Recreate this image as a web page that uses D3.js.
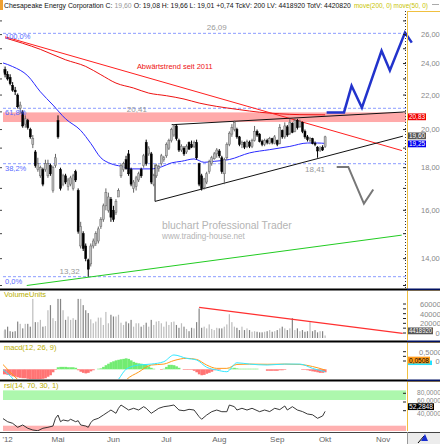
<!DOCTYPE html>
<html>
<head>
<meta charset="utf-8">
<title>Chesapeake Energy Corporation</title>
<script src="https://cdn.jsdelivr.net/npm/d3@7"></script>
<style>
  body { margin: 0; background: #fff; }
  svg { display: block; }
  text { font-family: "Liberation Sans", Arial, sans-serif; }
</style>
</head>
<body>
<svg id="chart" width="440" height="444"></svg>
<script>
// trading-day index, 0 = first day of April 2012
var firstIndex = -2;

var open = [23.4,23.6,23.3,23.1,22.6,22.3,22.0,21.2,21.0,20.3,
  20.5,20.0,19.2,18.8,17.9,17.6,17.9,17.9,17.6,18.1,
  16.9,18.1,20.5,17.9,17.2,17.6,17.1,17.2,17.0,17.8,
  16.9,14.5,15.0,14.5,13.95,13.8,14.5,14.6,14.7,15.3,
  15.6,16.2,16.0,16.5,16.0,15.9,16.6,17.6,17.9,18.4,
  18.7,17.9,17.0,17.1,17.4,17.9,18.1,19.3,18.7,18.7,
  17.2,17.6,17.95,18.2,18.4,18.6,19.0,19.4,19.7,20.2,
  19.4,18.9,19.0,18.8,19.3,19.2,19.1,19.3,18.2,17.6,
  17.05,17.3,17.8,18.2,18.45,18.7,18.85,18.5,17.7,18.5,
  19.2,19.75,20.0,20.0,19.6,19.2,19.3,19.1,19.3,19.1,
  19.4,19.9,19.75,19.35,19.2,19.4,19.25,19.5,19.25,19.4,
  19.25,19.95,19.6,20.15,19.8,20.35,19.9,20.5,20.15,20.4,
  19.9,19.6,19.4,19.5,19.25,19.05,18.9,19.05,19.08];
var high = [23.9,23.8,23.5,23.3,22.8,22.5,22.1,21.6,21.1,20.8,
  20.6,20.1,19.7,18.9,18.5,18.1,18.0,18.4,18.4,18.2,
  18.1,18.7,20.8,18.0,17.7,17.7,17.5,17.6,17.7,17.9,
  17.0,15.5,15.1,14.6,14.0,14.6,14.8,15.1,15.3,15.7,
  16.3,17.0,16.8,16.6,16.2,16.5,17.0,18.2,18.3,18.6,
  18.9,18.0,17.4,17.6,17.8,18.0,18.7,19.45,19.1,18.8,
  17.7,18.2,18.15,18.7,18.6,19.3,19.5,20.1,20.3,20.3,
  19.5,19.2,19.1,19.2,19.35,19.4,19.4,19.45,18.25,17.7,
  17.5,17.8,18.4,18.6,18.8,19.0,18.95,18.6,18.5,19.3,
  19.9,20.3,20.5,20.1,19.65,19.4,19.35,19.45,19.4,19.5,
  20.2,20.0,19.8,19.45,19.5,19.5,19.6,19.55,19.7,19.45,
  20.3,20.0,20.4,20.25,20.6,20.4,20.65,20.6,20.55,20.45,
  20.0,19.7,19.6,19.55,19.35,19.1,19.1,19.15,19.66];
var low = [23.2,23.1,22.9,22.6,22.2,22.0,21.2,20.9,20.1,20.1,
  20.0,19.5,19.0,18.0,17.8,17.5,17.1,17.8,17.5,17.6,
  16.8,18.0,19.5,16.9,17.1,17.2,16.9,17.1,16.9,17.3,
  15.0,14.4,14.3,13.9,13.32,13.7,14.4,14.5,14.6,15.2,
  15.5,16.0,15.9,15.5,15.5,15.8,16.6,17.5,17.8,17.9,
  17.6,17.1,16.8,16.9,17.3,17.5,18.0,18.1,18.6,17.2,
  17.1,17.5,17.8,18.1,18.3,18.5,18.9,19.3,19.6,19.4,
  18.8,18.8,18.6,18.7,18.9,19.0,19.0,18.4,17.1,16.9,
  16.95,17.2,17.7,18.1,18.4,18.5,18.5,17.7,17.2,18.4,
  19.1,19.6,19.9,19.5,19.1,19.0,18.95,19.0,19.0,19.0,
  19.35,19.6,19.3,19.1,19.1,19.2,19.2,19.2,19.2,19.1,
  19.2,19.5,19.5,19.6,19.7,19.8,19.85,20.0,20.1,19.8,
  19.5,19.35,19.3,19.2,19.1,18.5,18.8,18.85,19.01];
var close = [23.6,23.3,23.0,22.7,22.3,22.2,21.3,21.4,20.2,20.6,
  20.1,19.6,19.5,18.1,18.2,18.0,17.2,18.2,18.2,17.7,
  18.0,18.5,19.6,17.0,17.6,17.3,17.4,17.5,17.6,17.4,
  15.1,15.3,14.4,14.0,13.6,14.5,14.7,15.0,15.2,15.6,
  16.2,16.8,16.6,15.7,15.6,16.4,16.9,18.1,18.2,17.95,
  17.7,17.2,17.3,17.5,17.7,17.6,18.6,18.2,19.0,17.3,
  17.6,18.1,18.05,18.6,18.5,19.2,19.4,20.0,20.2,19.5,
  18.9,19.1,18.7,19.1,18.95,19.05,19.3,18.5,17.2,17.0,
  17.45,17.7,18.3,18.5,18.7,18.9,18.6,17.8,18.4,19.2,
  19.8,20.1,20.4,19.6,19.2,19.3,19.05,19.35,19.1,19.4,
  19.9,19.7,19.35,19.2,19.4,19.3,19.5,19.3,19.6,19.2,
  20.1,19.6,20.2,19.7,20.4,19.85,20.5,20.1,20.45,19.9,
  19.6,19.45,19.5,19.25,19.2,18.85,19.0,18.9,19.60];
// volume in millions
var volume = [13,15,20,12,11,12,29,25,17,25,
  25,20,69,28,28,32,20,21,49,58,
  35,30,69,69,49,32,38,32,35,32,
  69,69,58,49,44,33,26,29,36,36,
  23,46,26,41,38,38,41,27,23,29,
  26,32,20,26,26,20,23,27,
  20,32,23,29,30,26,20,29,23,28,29,23,18,26,20,16,12,18,17,28,52,18,20,17,24,16,14,18,17,
  17,20,24,42,28,20,18,14,20,14,17,14,11,12,11,10,10,11,12,14,11,12,14,17,20,17,14,17,35,14,
  17,12,14,11,12,28,12,14,10,12,12,4.41892];
var macdHist = [-0.27,-0.27,-0.3,-0.32,-0.38,-0.4,-0.43,-0.46,-0.48,-0.48,-0.51,-0.54,-0.54,-0.54,-0.54,-0.54,-0.51,-0.48,-0.4,-0.32,-0.16,-0.03,
  0.11,0.13,0.13,0.13,0.11,0.11,0.11,0.08,
  -0.05,-0.13,-0.19,-0.22,-0.19,-0.11,-0.05,0,0.03,0.05,
  0.13,0.22,0.3,0.38,0.43,0.48,0.51,0.54,0.56,0.59,0.56,0.48,0.4,0.35,0.32,0.3,0.27,0.24,0.16,0.08,0.03,
  0,0,-0.03,0.03,0.13,0.24,0.24,0.22,0.16,0.08,0,
  -0.03,-0.03,-0.03,-0.03,-0.08,-0.16,-0.27,-0.32,-0.3,-0.24,-0.19,-0.13,-0.05,-0.03,-0.03,
  0,0,0,0.03,0.05,0.08,0.05,0.03,0.03,0.03,0.03,0.03,0.03,0.03,0.03,0,0,0,
  -0.08,-0.08,-0.08,-0.08,-0.08,-0.05,-0.05,-0.03,0,0,0,0,0,0,-0.03,-0.03,-0.05,-0.08,-0.11,-0.13,-0.16,-0.19,-0.19,-0.16];

var macdIdx    = [-2,1,4,10,20,30,38,44,47,52,57,62,66,71,75,79,83,87,91,96,103,110,116,121,126];
var macdLine   = [0,-0.35,-0.8,-1.4,-1.2,-1.6,-1.4,-0.54,0,0.23,0.28,0.41,0.77,0.59,0.5,0.11,-0.04,-0.13,0.35,0.28,0.23,0.28,0.28,0.05,-0.13];
var signalLine = [0.28,-0.15,-0.55,-1.0,-1.25,-1.5,-1.6,-1.1,-0.58,-0.15,0.23,0.28,0.47,0.59,0.53,0.23,0.05,0.05,0.26,0.28,0.27,0.28,0.26,0.15,-0.04];
var macdLast = 0.0508;

var rsiIdx = [-2,0,2,4,6,8,10,12,14,16,18,19,20,21,22,24,25,27,28,29,31,32,33,34,36,38,40,41,43,44,
  45,47,48,50,52,54,55,57,58,60,62,64,66,68,70,72,74,76,77,79,81,83,85,87,88,90,91,93,95,97,
  100,102,104,106,108,110,111,113,115,117,119,121,123,125,126];
var rsiVal = [41.5,36.2,33.7,27.5,31.1,26,23.3,22.2,26,27.5,29.5,41.5,46.6,36.2,38.9,37.3,40,36.2,37.8,31.1,
  29.5,27.5,34.7,38.9,41.5,46.6,51.8,54.4,49.3,57.1,62.2,57.1,54.4,57.1,54.4,59.6,57.1,49.3,51.8,57.1,
  59.6,60.7,62.2,54.4,53.3,55.5,54.4,44,40,46.6,51.8,54.4,51.8,51.8,62.2,59.6,54.4,57.1,54.4,57.1,
  51.8,54.4,52,57.1,55,60.7,54.4,59.6,54.4,52,48.2,47,41.5,45.1,52.2848];

var ma50Idx = [-2,2,8,13,18,23,29,33,37,41,45,49,57,61,65,69,74,78,82,88,96,104,112,119,123,126];
var ma50 = [24.05,23.8,23.2,22.2,21.4,20.6,19.95,19.25,18.5,18.2,18.07,17.94,17.94,18.04,18.24,18.32,18.44,18.27,18.32,18.41,18.75,18.92,19.09,19.27,19.27,19.25];
var ma200Idx = [-1,13,23,31,37,43,50,56,63,70,76,83,92,100,108,116,126];
var ma200 = [25.76,24.96,24.25,23.81,23.27,22.74,22.43,22.12,21.96,21.76,21.52,21.32,21.13,20.98,20.89,20.84,20.83];

var fibLevels = [26.09, 21.21, 18.20, 13.32];
var fibNames = ["100,0%", "61,8%", "38,2%", "0,0%"];
var fibTags = ["26,09", "20,41", "18,41", "13,32"];
var fibTagIdx = [83, 51.3, 122, 24.6];
var resistanceBand = [20.42, 20.97];

var downTrend = [[-1.0, 25.84], [156.5, 18.87]];
var triUpper = [[65.1, 20.27], [156.9, 20.99]];
var triLower = [[58.5, 16.40], [156.9, 19.64]];
var triLeft = [[58.5, 16.40], [58.5, 18.16]];
var supportLine = [[7.6, 13.0], [156.4, 14.94]];
var bullPath = [[126.6, 20.97], [133.5, 20.97], [136.5, 22.57], [140.6, 21.24], [148.4, 24.86], [151.7, 23.54], [157.7, 26.14], [160.4, 25.43]];
var bearPath = [[130.6, 18.04], [135.2, 18.04], [141.4, 16.30], [145.1, 16.95]];
var volTrend = [[76, 54.2], [156.8, 8.3]];

var priceTicks = [14, 16, 18, 20, 22, 24, 26];
var volTicks = [20, 40, 60];
var rsiTicks = [40, 60, 80];
var monthLabels = ["'12", "Mai", "Jun", "Jul", "Aug", "Sep", "Okt", "Nov"];
var monthIdx = [0, 20, 42, 63, 84, 107, 126, 149];

var title = "Chesapeake Energy Corporation";
var quoteKeys = ["O:", "H:", "L:"];
var quoteVals = [19.08, 19.66, 19.01];
var quoteTail = "+0,74 TckV: 200 LV: 4418920 TotV: 4420820";
var studies = "move(200, 0) move(50, 0)";

// ---------------------------------------------------------------
var svg = d3.select("#chart");
var plotL = 3, plotR = 406, axisL = 407;
var mainTop = 11, mainBot = 288;
var volTop = 291, volBot = 339;
var macdTop = 343, macdBot = 379;
var rsiTop = 382, rsiBot = 431;

var fmt2 = function(v) { return d3.format(".2f")(v).replace(".", ","); };
var fmt4 = function(v) { return d3.format(".4f")(v).replace(".", ","); };

var x = d3.scaleLinear().domain([-1.83, 158.1]).range([plotL, plotR]);
var step = x(1) - x(0);
var y = d3.scaleLog().domain([12.91, 27.75]).range([mainBot, mainTop]);
var yVol = d3.scaleLinear().domain([0, 60]).range([338, 304]);
var yVolAxis = d3.scaleLinear().domain([0, 60]).range([333, 304]);
var yMacd = d3.scaleLinear().domain([0, 1]).range([369.3, 350.7]);
var yMacdAxis = d3.scaleLinear().domain([0, 0.5]).range([361, 351.7]);
var yRsi = d3.scaleLinear().domain([30, 70]).range([425.7, 400]);
var yRsiAxis = d3.scaleLinear().domain([40, 80]).range([410.7, 393.3]);

var bars = open.map(function(o, k) {
  return { i: k + firstIndex, o: o, h: high[k], l: low[k], c: close[k], v: volume[k], hist: macdHist[k] };
});
var last = bars[bars.length - 1];

var defs = svg.append("defs");
function addClip(id, top, bot) {
  defs.append("clipPath").attr("id", id).append("rect")
    .attr("x", plotL).attr("y", top).attr("width", plotR - plotL).attr("height", bot - top);
}
addClip("clipMain", mainTop, mainBot);
addClip("clipVol", volTop, volBot);
addClip("clipMacd", macdTop, macdBot);
addClip("clipRsi", rsiTop, rsiBot);

var ptLine = d3.line().x(function(d) { return x(d[0]); }).y(function(d) { return y(d[1]); });
function zip(a, b) { return a.map(function(v, k) { return [v, b[k]]; }); }

// fit a run of coloured texts into a given width by shrinking the font
function textRun(x0, baseline, width, parts, gap) {
  var nodes = parts.map(function(p) {
    return svg.append("text").attr("y", baseline).attr("font-size", 10).attr("fill", p[1]).text(p[0]);
  });
  var widths = nodes.map(function(n) { return n.node().getComputedTextLength(); });
  var s = (width - gap * (parts.length - 1)) / d3.sum(widths);
  var cx = x0;
  nodes.forEach(function(n, k) {
    n.attr("x", cx).attr("font-size", 10 * s);
    cx += widths[k] * s + gap;
  });
}

// ---- header ----
svg.append("rect").attr("x", 0).attr("y", 0).attr("width", 3).attr("height", 10).attr("fill", "#f0a030");
textRun(4, 8, 347, [
  [title + " C:", "#111"],
  [fmt2(last.c), "#999"],
  [quoteKeys.map(function(k, j) { return k + " " + fmt2(quoteVals[j]); }).join(" ") + " " + quoteTail, "#111"]
], 2);
textRun(354, 8, 74, [[studies, "#c8c400"]], 0);
svg.append("line").attr("x1", 432).attr("x2", 439).attr("y1", 4.5).attr("y2", 4.5).attr("stroke", "#aaa");

// ---- main panel ----
var main = svg.append("g").attr("clip-path", "url(#clipMain)");

main.append("rect").attr("x", plotL).attr("width", plotR - plotL)
  .attr("y", y(resistanceBand[1])).attr("height", y(resistanceBand[0]) - y(resistanceBand[1]))
  .attr("fill", "#ffaaaa");

main.selectAll(".fib").data(fibLevels).enter().append("line")
  .attr("x1", plotL).attr("x2", plotR)
  .attr("y1", function(d) { return y(d); }).attr("y2", function(d) { return y(d); })
  .attr("stroke", "#8c9cff").attr("stroke-dasharray", "3,2");

textRun(162, 229, 130, [["bluchart Professional Trader", "#b4b4b4"]], 0);
textRun(162, 239, 83, [["www.trading-house.net", "#b4b4b4"]], 0);

main.append("path").datum(zip(ma200Idx, ma200)).attr("d", ptLine.curve(d3.curveMonotoneX))
  .attr("fill", "none").attr("stroke", "#ee1111").attr("stroke-width", 1);
main.append("path").datum(zip(ma50Idx, ma50)).attr("d", ptLine.curve(d3.curveMonotoneX))
  .attr("fill", "none").attr("stroke", "#2a2aff").attr("stroke-width", 1);
ptLine.curve(d3.curveLinear);

main.append("path").datum(downTrend).attr("d", ptLine).attr("stroke", "#ff2020").attr("fill", "none");
[triUpper, triLower, triLeft].forEach(function(seg) {
  main.append("path").datum(seg).attr("d", ptLine).attr("stroke", "#111").attr("fill", "none");
});
main.append("path").datum(supportLine).attr("d", ptLine).attr("stroke", "#22cc22").attr("fill", "none");

var candle = main.selectAll(".candle").data(bars).enter().append("g");
candle.append("line")
  .attr("x1", function(d) { return x(d.i); }).attr("x2", function(d) { return x(d.i); })
  .attr("y1", function(d) { return y(d.h); }).attr("y2", function(d) { return y(d.l); })
  .attr("stroke", function(d) { return d.c >= d.o ? "#666" : "#000"; });
candle.append("rect")
  .attr("x", function(d) { return x(d.i) - 1; }).attr("width", 2)
  .attr("y", function(d) { return y(Math.max(d.o, d.c)); })
  .attr("height", function(d) { return Math.max(1, y(Math.min(d.o, d.c)) - y(Math.max(d.o, d.c))); })
  .attr("fill", function(d) { return d.c >= d.o ? "#bdbdbd" : "#000"; })
  .attr("stroke", function(d) { return d.c >= d.o ? "#666" : "#000"; }).attr("stroke-width", 0.5);

svg.append("path").datum(bullPath).attr("d", ptLine).attr("fill", "none")
  .attr("stroke", "#2233cc").attr("stroke-width", 2.5);
main.append("path").datum(bearPath).attr("d", ptLine).attr("fill", "none")
  .attr("stroke", "#777").attr("stroke-width", 2);

// labels in main panel
svg.selectAll(".fibName").data(fibLevels).enter().append("text")
  .attr("x", 5).attr("y", function(d, k) { return y(d) + (k === 0 ? 6 : 7); })
  .attr("font-size", 7.5).attr("fill", "#5a6cff").text(function(d, k) { return fibNames[k]; });
var tagDy = [-3, 3.5, 8.5, -3];
svg.selectAll(".fibTag").data(fibLevels).enter().append("text")
  .attr("x", function(d, k) { return x(fibTagIdx[k]); })
  .attr("y", function(d, k) { return y(d) + tagDy[k]; })
  .attr("text-anchor", "middle").attr("font-size", 8).attr("fill", "#999")
  .text(function(d, k) { return fibTags[k]; });
textRun(x(51.3), y(23.65), 76, [["Abwärtstrend seit 2011", "#ee1111"]], 0);

// ---- volume panel ----
var vol = svg.append("g").attr("clip-path", "url(#clipVol)");
vol.selectAll("rect").data(bars).enter().append("rect")
  .attr("x", function(d) { return x(d.i) - 0.6; }).attr("width", 1.2)
  .attr("y", function(d) { return yVol(d.v); })
  .attr("height", function(d) { return yVol(0) - yVol(d.v); })
  .attr("fill", function(d) { return d.c >= d.o ? "#bdbdbd" : "#858585"; });
vol.append("path").datum(volTrend)
  .attr("d", d3.line().x(function(d) { return x(d[0]); }).y(function(d) { return yVol(d[1]); }))
  .attr("stroke", "#ff3030").attr("stroke-width", 1.2).attr("fill", "none");

// ---- macd panel ----
var macd = svg.append("g").attr("clip-path", "url(#clipMacd)");
macd.selectAll("rect").data(bars).enter().append("rect")
  .attr("x", function(d) { return x(d.i) - step / 2; }).attr("width", step + 0.2)
  .attr("y", function(d) { return Math.min(yMacd(0), yMacd(d.hist)); })
  .attr("height", function(d) { return Math.abs(yMacd(d.hist) - yMacd(0)); })
  .attr("fill", function(d) { return d.hist >= 0 ? "#72ec72" : "#ff7474"; });
var mLine = d3.line().curve(d3.curveMonotoneX).x(function(d) { return x(d[0]); }).y(function(d) { return yMacd(d[1]); });
macd.append("path").datum(zip(macdIdx, signalLine)).attr("d", mLine).attr("fill", "none").attr("stroke", "#ff9a1a");
macd.append("path").datum(zip(macdIdx, macdLine)).attr("d", mLine).attr("fill", "none").attr("stroke", "#33e8ff");

// ---- rsi panel ----
var rsi = svg.append("g").attr("clip-path", "url(#clipRsi)");
rsi.append("rect").attr("x", plotL).attr("width", plotR - plotL)
  .attr("y", yRsi(85)).attr("height", yRsi(70) - yRsi(85)).attr("fill", "#adf7ad");
rsi.append("rect").attr("x", plotL).attr("width", plotR - plotL)
  .attr("y", yRsi(30)).attr("height", yRsi(15) - yRsi(30)).attr("fill", "#ffb0b0");
rsi.append("path").datum(zip(rsiIdx, rsiVal))
  .attr("d", d3.line().x(function(d) { return x(d[0]); }).y(function(d) { return yRsi(d[1]); }))
  .attr("fill", "none").attr("stroke", "#222").attr("stroke-width", 0.9);

// ---- panel titles ----
var studyColor = "#b8ae00";
svg.append("text").attr("x", 4).attr("y", 297).attr("font-size", 7.5).attr("fill", studyColor).text("VolumeUnits");
svg.append("text").attr("x", 4).attr("y", 349.5).attr("font-size", 7.5).attr("fill", studyColor).text("macd(12, 26, 9)");
svg.append("text").attr("x", 4).attr("y", 388).attr("font-size", 7.5).attr("fill", studyColor).text("rsi(14, 70, 30, 1)");

// ---- frames ----
[[mainTop, mainBot + 1], [volTop - 1, volBot + 1], [macdTop - 1, macdBot], [rsiTop - 1, rsiBot]].forEach(function(p) {
  svg.append("line").attr("x1", axisL + 0.5).attr("x2", axisL + 0.5).attr("y1", p[0]).attr("y2", p[1])
    .attr("stroke", "#f0c040");
  svg.append("line").attr("x1", axisL).attr("x2", 440).attr("y1", p[0] + 0.5).attr("y2", p[0] + 0.5)
    .attr("stroke", "#f0c040");
});
[289.5, 341.5, 380.5].forEach(function(v) {
  svg.append("line").attr("x1", 0).attr("x2", axisL).attr("y1", v).attr("y2", v).attr("stroke", "#000").attr("stroke-width", 2);
  svg.append("line").attr("x1", axisL).attr("x2", 440).attr("y1", v).attr("y2", v).attr("stroke", "#001060").attr("stroke-width", 2);
});
svg.append("line").attr("x1", 0).attr("x2", 440).attr("y1", 432.5).attr("y2", 432.5).attr("stroke", "#444");
svg.append("line").attr("x1", axisL + 0.5).attr("x2", axisL + 0.5).attr("y1", 432).attr("y2", 444).attr("stroke", "#999");
svg.append("rect").attr("x", axisL + 1).attr("y", 433).attr("width", 32).attr("height", 11).attr("fill", "#ececec");
svg.append("path").attr("d", "M418,443 L424,436").attr("stroke", "#000").attr("stroke-width", 1);
svg.append("path").attr("d", "M421,441 L425,434 L428,441 Z").attr("fill", "#1a2fd0");

// ---- price axis ----
svg.append("line").attr("x1", plotR - 0.5).attr("x2", plotR - 0.5).attr("y1", mainTop).attr("y2", mainBot)
  .attr("stroke", "#333").attr("stroke-dasharray", "1,2");
var tickSet = d3.range(13, 28);
svg.selectAll(".ptick").data(tickSet).enter().append("line")
  .attr("x1", plotR - 3).attr("x2", plotR).attr("y1", function(d) { return y(d); }).attr("y2", function(d) { return y(d); })
  .attr("stroke", "#222");
svg.selectAll(".ltick").data(tickSet).enter().append("line")
  .attr("x1", 0).attr("x2", 2).attr("y1", function(d) { return y(d); }).attr("y2", function(d) { return y(d); })
  .attr("stroke", "#444");
svg.selectAll(".plab").data(priceTicks).enter().append("text")
  .attr("x", 421).attr("y", function(d) { return y(d) + 2.5; })
  .attr("font-size", 7.5).attr("fill", "#888").text(function(d) { return fmt2(d); });

function valueBox(yy, txt, bg, fg, w) {
  svg.append("rect").attr("x", axisL + 1).attr("y", yy - 3.4).attr("width", w).attr("height", 6.8).attr("fill", bg);
  svg.append("text").attr("x", axisL + 2).attr("y", yy + 2.5).attr("font-size", 7).attr("fill", fg)
    .attr("textLength", w - 2).attr("lengthAdjust", "spacingAndGlyphs").text(txt);
}
valueBox(y(ma200[ma200.length - 1]) + 2, fmt2(ma200[ma200.length - 1]), "#f00000", "#fff", 18);
valueBox(y(last.c) - 1, fmt2(last.c), "#555", "#fff", 18);
valueBox(y(ma50[ma50.length - 1]) + 0.5, fmt2(ma50[ma50.length - 1]), "#0000ee", "#fff", 18);

// ---- volume axis ----
svg.selectAll(".vtick").data(d3.range(0, 70, 10)).enter().append("line")
  .attr("x1", plotR - 3).attr("x2", plotR).attr("y1", function(d) { return yVolAxis(d); }).attr("y2", function(d) { return yVolAxis(d); })
  .attr("stroke", "#222");
svg.selectAll(".vlab").data(volTicks).enter().append("text")
  .attr("x", 420).attr("y", function(d) { return yVolAxis(d) + 3; })
  .attr("font-size", 7.5).attr("fill", "#888").text(function(d) { return String(d * 1000000); });
svg.append("text").attr("x", 435.5).attr("y", yVolAxis(0) + 3).attr("font-size", 7.5).attr("fill", "#888").text("0");
valueBox(yVolAxis(last.v), String(Math.round(last.v * 1000000)), "#555", "#fff", 25);

// ---- macd axis ----
svg.selectAll(".mtick").data([0, 0.25, 0.5]).enter().append("line")
  .attr("x1", plotR - 3).attr("x2", plotR).attr("y1", function(d) { return yMacdAxis(d); }).attr("y2", function(d) { return yMacdAxis(d); })
  .attr("stroke", "#222");
svg.append("text").attr("x", 419).attr("y", yMacdAxis(0.5) + 3).attr("font-size", 7.5).attr("fill", "#888").text(fmt4(0.5));
svg.append("text").attr("x", 435.5).attr("y", yMacdAxis(0) + 3).attr("font-size", 7.5).attr("fill", "#888").text("0");
svg.append("rect").attr("x", axisL + 1).attr("y", yMacdAxis(macdLast) + 0.5).attr("width", 24).attr("height", 4.5).attr("fill", "#22e0ff");
valueBox(yMacdAxis(macdLast), fmt4(macdLast), "#ff9a1a", "#000", 22);

// ---- rsi axis ----
var rsiLabDy = { 40: 5, 60: 0.6, 80: 2 };
svg.selectAll(".rtick").data(rsiTicks).enter().append("line")
  .attr("x1", plotR - 3).attr("x2", plotR).attr("y1", function(d) { return yRsiAxis(d); }).attr("y2", function(d) { return yRsiAxis(d); })
  .attr("stroke", "#222");
svg.selectAll(".rlab").data(rsiTicks).enter().append("text")
  .attr("x", 417).attr("y", function(d) { return yRsiAxis(d) + rsiLabDy[d]; })
  .attr("font-size", 6.6).attr("fill", "#888").text(function(d) { return fmt4(d); });
valueBox(yRsiAxis(rsiVal[rsiVal.length - 1]) + 1.3, fmt4(rsiVal[rsiVal.length - 1]), "#000", "#fff", 26);

// ---- time axis ----
svg.selectAll(".month").data(monthIdx).enter().append("text")
  .attr("x", function(d) { return x(d); }).attr("y", 442)
  .attr("text-anchor", "middle").attr("font-size", 8).attr("fill", "#666")
  .text(function(d, k) { return monthLabels[k]; });
</script>
</body>
</html>
